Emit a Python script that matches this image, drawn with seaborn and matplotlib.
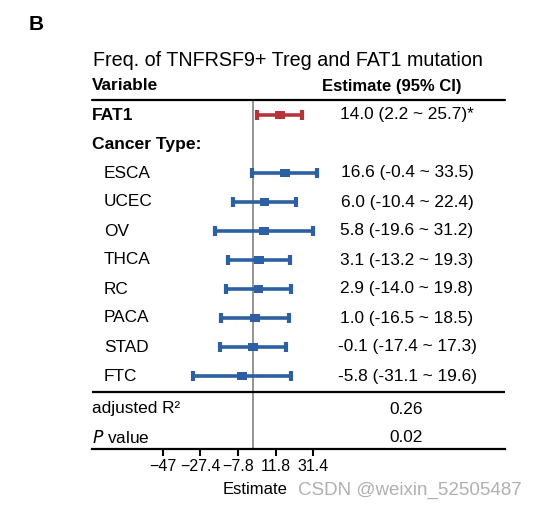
import matplotlib
matplotlib.use("Agg")
import matplotlib.pyplot as plt
import seaborn as sns
import pandas as pd
import numpy as np
from matplotlib.transforms import blended_transform_factory

sns.set_theme(style="white")
plt.rcParams['font.family'] = ['Liberation Sans', 'DejaVu Sans']
plt.rcParams['text.color'] = 'black'
plt.rcParams['axes.labelcolor'] = 'black'
plt.rcParams['xtick.color'] = 'black'

# ---- data ----
variables = ["FAT1", "ESCA", "UCEC", "OV", "THCA", "RC", "PACA", "STAD", "FTC"]
estimates = [14.0, 16.6, 6.0, 5.8, 3.1, 2.9, 1.0, -0.1, -5.8]
ci_low = [2.2, -0.4, -10.4, -19.6, -13.2, -14.0, -16.5, -17.4, -31.1]
ci_high = [25.7, 33.5, 22.4, 31.2, 19.3, 19.8, 18.5, 17.3, 19.6]
stars = ["*", "", "", "", "", "", "", "", ""]
groups = ["FAT1", "Cancer", "Cancer", "Cancer", "Cancer", "Cancer", "Cancer", "Cancer", "Cancer"]
row_pos = [0, 2, 3, 4, 5, 6, 7, 8, 9]
xticks = [-47, -27.4, -7.8, 11.8, 31.4]
xtick_labels = ["\u221247", "\u221227.4", "\u22127.8", "11.8", "31.4"]
adj_r2 = "0.26"
p_value = "0.02"
title = "Freq. of TNFRSF9+ Treg and FAT1 mutation"

df = pd.DataFrame({"variable": variables, "est": estimates, "lo": ci_low,
                   "hi": ci_high, "group": groups, "row": row_pos})

RED = "#B5343A"
BLUE = "#2D5FA3"
palette = {"FAT1": RED, "Cancer": BLUE}

W, H = 542, 511
fig = plt.figure(figsize=(W / 100, H / 100), dpi=100)
left, right, top, bottom = 92, 505, 100, 449
ax = fig.add_axes([left / W, 1 - bottom / H, (right - left) / W, (bottom - top) / H])

# x mapping: 0 at pixel 253, 1.92 px / unit
ppu = 1.92
x0 = 253
ax.set_xlim((left - x0) / ppu, (right - x0) / ppu)
# y: row 0 at pixel 115, 29 px per row
rpx = 29.0
y0 = 115
ax.set_ylim((bottom - y0) / rpx, (top - y0) / rpx)

# CI lines with caps
for _, r in df.iterrows():
    c = palette[r["group"]]
    ax.hlines(r["row"], r["lo"], r["hi"], color=c, lw=2.6, zorder=3)
    ax.plot([r["lo"], r["hi"]], [r["row"], r["row"]], ls="none", marker="|",
            ms=7, mew=3.0, color=c, zorder=3)

rect = [(-1, -0.78), (1, -0.78), (1, 0.78), (-1, 0.78)]
sns.scatterplot(data=df, x="est", y="row", hue="group", palette=palette,
                marker=rect, s=48, linewidth=0, legend=False, ax=ax, zorder=4)

ax.axvline(0, color="#808080", lw=1.2, zorder=2)

# horizontal rules
yr_sep = (392 - y0) / rpx
ax.axhline((top - y0) / rpx, color="black", lw=1.6, clip_on=False)
ax.axhline(yr_sep, color="black", lw=1.6)

# spines
for s in ["top", "left", "right"]:
    ax.spines[s].set_visible(False)
ax.spines["bottom"].set_color("black")
ax.spines["bottom"].set_linewidth(1.6)
ax.set_yticks([])
ax.set_xticks(xticks)
ax.set_xticklabels(xtick_labels)
ax.tick_params(axis="x", direction="out", length=5, width=1.5, color="black",
               labelsize=11.5, pad=2, bottom=True, labelcolor="black")
ax.set_xlabel("")
ax.set_ylabel("")

# text table
tr = blended_transform_factory(fig.transFigure, ax.transData)
fs = 12.4
fb = 12.6
lx = 92 / W
ax.text(lx, -1.0, "Variable", transform=tr, fontsize=12.4, fontweight="bold",
        ha="left", va="center", clip_on=False)
ax.text(392 / W, -1.0, "Estimate (95% CI)", transform=tr, fontsize=12,
        fontweight="bold", ha="center", va="center", clip_on=False)
ax.text(lx, 0, "FAT1", transform=tr, fontsize=fb, fontweight="bold",
        ha="left", va="center")
ax.text(lx, 1, "Cancer Type:", transform=tr, fontsize=fb, fontweight="bold",
        ha="left", va="center")
for _, r in df.iterrows():
    if r["group"] == "Cancer":
        ax.text(104 / W, r["row"], r["variable"], transform=tr, fontsize=fs,
                ha="left", va="center")
    lab = f"{r['est']:.1f} ({r['lo']:.1f} ~ {r['hi']:.1f})"
    st = stars[variables.index(r["variable"])]
    ax.text(407 / W, r["row"], lab + st, transform=tr, fontsize=fs,
            ha="center", va="center")

yr2 = (409 - y0) / rpx
yp = (437 - y0) / rpx
ax.text(lx, yr2, "adjusted R\u00b2", transform=tr, fontsize=fs, ha="left", va="center")
ax.text(lx, yp, "$\\mathit{P}$ value", transform=tr, fontsize=fs, ha="left", va="center")
ax.text(406 / W, yr2, adj_r2, transform=tr, fontsize=fs, ha="center", va="center")
ax.text(406 / W, yp, p_value, transform=tr, fontsize=fs, ha="center", va="center")

fig.text(287.5 / W, 1 - 61 / H, title, fontsize=14.2, ha="center", va="center")
fig.text(36 / W, 1 - 24 / H, "B", fontsize=15, fontweight="bold", ha="center", va="center")
fig.text(255 / W, 1 - 490 / H, "Estimate", fontsize=12, ha="center", va="center")
fig.text(410 / W, 1 - 490 / H, "CSDN @weixin_52505487", fontsize=13.5,
         color="#B0B0B0", ha="center", va="center")

fig.savefig("out.png", dpi=100)
